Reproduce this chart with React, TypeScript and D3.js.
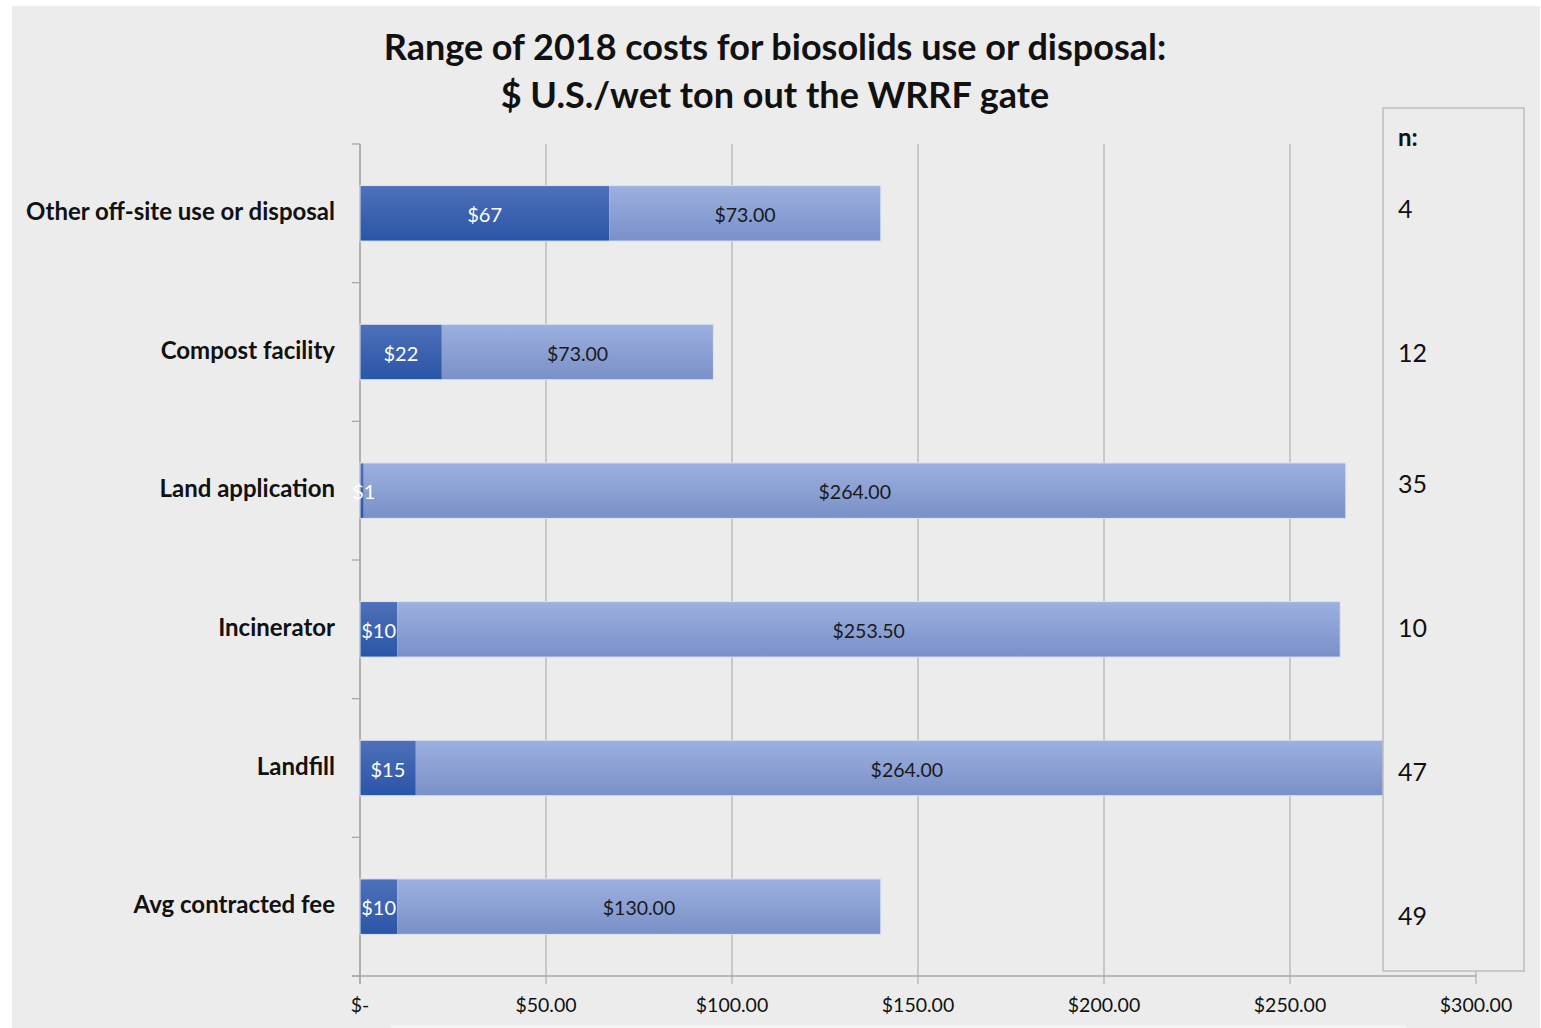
import React, { useEffect, useRef } from 'react';
import * as d3 from 'd3';

const categories = [
  'Other off-site use or disposal',
  'Compost facility',
  'Land application',
  'Incinerator',
  'Landfill',
  'Avg contracted fee',
];
const minCost = [67, 22, 1, 10, 15, 10];
const rangeCost = [73, 73, 264, 253.5, 264, 130];
const minLabels = ['$67', '$22', '$1', '$10', '$15', '$10'];
const rangeLabels = ['$73.00', '$73.00', '$264.00', '$253.50', '$264.00', '$130.00'];
const sampleSizes = ['4', '12', '35', '10', '47', '49'];
const xTicks = [0, 50, 100, 150, 200, 250, 300];

const W = 1541;
const H = 1028;
const FONT = 'Lato, "Open Sans", sans-serif';

const App = () => {
  const ref = useRef<SVGSVGElement>(null);

  useEffect(() => {
    const svg = d3.select(ref.current);
    svg.selectAll('*').remove();

    const defs = svg.append('defs');
    const grad = (id: string, top: string, bottom: string) => {
      const g = defs.append('linearGradient').attr('id', id)
        .attr('x1', 0).attr('y1', 0).attr('x2', 0).attr('y2', 1);
      g.append('stop').attr('offset', '0%').attr('stop-color', top);
      g.append('stop').attr('offset', '100%').attr('stop-color', bottom);
    };
    grad('darkGrad', '#4e71b9', '#2a55a7');
    grad('lightGrad', '#9db0df', '#7990c8');

    // panel
    svg.append('rect').attr('x', 12).attr('y', 6).attr('width', 1528).attr('height', H - 6)
      .attr('fill', '#ececec');
    svg.append('rect').attr('x', 391).attr('y', 1025).attr('width', 1015).attr('height', 3)
      .attr('fill', '#f3f3f3');

    const x = d3.scaleLinear().domain([0, 300]).range([360, 1476]);
    const y = d3.scaleBand().domain(categories).range([144, 976])
      .paddingInner(0.6).paddingOuter(0.3);
    const step = y.step();

    // title
    const title = svg.append('text').attr('text-anchor', 'middle')
      .attr('font-family', FONT).attr('font-weight', 700).attr('font-size', 36)
      .attr('fill', '#111');
    title.append('tspan').attr('x', 775).attr('y', 60)
      .text('Range of 2018 costs for biosolids use or disposal:');
    title.append('tspan').attr('x', 775).attr('y', 108)
      .text('$ U.S./wet ton out the WRRF gate');

    // gridlines
    svg.append('g').selectAll('line').data(xTicks).enter().append('line')
      .attr('x1', d => x(d)).attr('x2', d => x(d))
      .attr('y1', 144).attr('y2', 984)
      .attr('stroke', '#b4b4b4').attr('stroke-width', 1.3);

    // y-axis line and ticks
    svg.append('line').attr('x1', 360).attr('x2', 360).attr('y1', 144).attr('y2', 984)
      .attr('stroke', '#a8a8a8').attr('stroke-width', 1.5);
    const yTicks = d3.range(categories.length + 1).map(i => 144 + i * step);
    svg.append('g').selectAll('line').data(yTicks).enter().append('line')
      .attr('x1', 352).attr('x2', 360).attr('y1', d => d).attr('y2', d => d)
      .attr('stroke', '#a8a8a8').attr('stroke-width', 1.3);
    svg.append('line').attr('x1', 352).attr('x2', x(300)).attr('y1', 976).attr('y2', 976)
      .attr('stroke', '#a8a8a8').attr('stroke-width', 1.5);

    // x tick labels
    svg.append('g').selectAll('text').data(xTicks).enter().append('text')
      .attr('x', d => x(d)).attr('y', 1012).attr('text-anchor', 'middle')
      .attr('font-family', FONT).attr('font-size', 19.5).attr('fill', '#111')
      .text(d => (d === 0 ? '$-' : `$${d.toFixed(2)}`));

    // category labels
    svg.append('g').selectAll('text').data(categories).enter().append('text')
      .attr('x', 335).attr('y', d => (y(d) as number) + y.bandwidth() / 2 + 6.5)
      .attr('text-anchor', 'end').attr('font-family', FONT).attr('font-weight', 700)
      .attr('font-size', 24).attr('fill', '#111')
      .text(d => d);

    const bars = svg.append('g');
    categories.forEach((c, i) => {
      const top = y(c) as number;
      const bh = y.bandwidth();
      bars.append('rect').attr('x', x(0)).attr('y', top)
        .attr('width', x(minCost[i]) - x(0)).attr('height', bh)
        .attr('fill', 'url(#darkGrad)');
      bars.append('rect').attr('x', x(minCost[i])).attr('y', top)
        .attr('width', x(minCost[i] + rangeCost[i]) - x(minCost[i])).attr('height', bh)
        .attr('fill', 'url(#lightGrad)');
      bars.append('rect').attr('x', x(0)).attr('y', top)
        .attr('width', x(minCost[i] + rangeCost[i]) - x(0)).attr('height', bh)
        .attr('fill', 'none').attr('stroke', '#dde3f0').attr('stroke-width', 1);
      bars.append('text')
        .attr('x', (x(0) + x(minCost[i])) / 2 + (minCost[i] < 3 ? 2 : 0))
        .attr('y', top + bh / 2 + 8.5).attr('text-anchor', 'middle')
        .attr('font-family', FONT).attr('font-size', 20).attr('fill', '#fff')
        .text(minLabels[i]);
      bars.append('text')
        .attr('x', (x(minCost[i]) + x(minCost[i] + rangeCost[i])) / 2)
        .attr('y', top + bh / 2 + 8.5).attr('text-anchor', 'middle')
        .attr('font-family', FONT).attr('font-size', 19.5).attr('fill', '#1a1a1a')
        .text(rangeLabels[i]);
    });

    // n: box (covers the right of the plot)
    svg.append('rect').attr('x', 1383).attr('y', 108).attr('width', 141).attr('height', 863)
      .attr('fill', '#ececec').attr('stroke', '#bdbdbd').attr('stroke-width', 1.5);
    svg.append('text').attr('x', 1398).attr('y', 146)
      .attr('font-family', FONT).attr('font-weight', 700).attr('font-size', 24).attr('fill', '#111')
      .text('n:');
    const nY = [209, 353, 484, 628, 772, 916];
    svg.append('g').selectAll('text').data(sampleSizes).enter().append('text')
      .attr('x', 1398).attr('y', (d, i) => nY[i] + 9)
      .attr('font-family', FONT).attr('font-size', 25).attr('fill', '#111')
      .text(d => d);
  }, []);

  return (
    <svg ref={ref} width={W} height={H}
      style={{ position: 'absolute', left: 0, top: 0, background: '#fff' }} />
  );
};

export default App;
